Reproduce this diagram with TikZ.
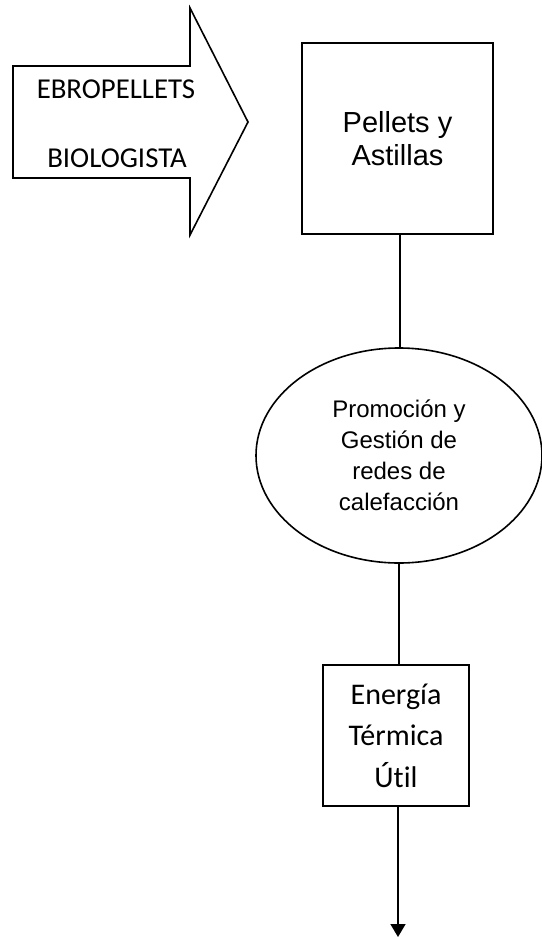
\documentclass[tikz,border=0pt]{standalone}
\usepackage{fontspec}
\setmainfont{Liberation Sans}
\newfontfamily\calib[Ligatures={NoCommon,NoRare}]{Carlito}
\usetikzlibrary{shapes.geometric,arrows.meta}
\begin{document}
\begin{tikzpicture}[x=1bp,y=-1bp,line width=1.6bp,
  boxshape/.style={draw,rectangle,inner sep=0pt,align=center},
  ellshape/.style={draw,ellipse,inner sep=0pt,align=center,minimum width=286bp,minimum height=215bp,
    font=\fontsize{24bp}{31bp}\selectfont},
  calibtext/.style={font=\calib\fontsize{28.8bp}{34bp}\selectfont},
  link/.style={draw,line width=1.6bp}]
\useasboundingbox (0,0) rectangle (542,938);
% big arrow
\draw (13,66) -- (190,66) -- (190,8) -- (248,122) -- (190,235) -- (190,178) -- (13,178) -- cycle;
\node[calibtext,anchor=base] (ebro) at (116,98) {EBROPELLETS};
\node[calibtext,anchor=base] (bio) at (117,167) {BIOLOGISTA};
% square
\node[boxshape,minimum width=191bp,minimum height=191bp,font=\fontsize{29bp}{33bp}\selectfont] (pel) at (397.5,138.5) {Pellets y\\Astillas};
% ellipse
\node[ellshape] (prom) at (399,455.5) {Promoción y\\Gestión de\\redes de\\calefacción};
% energy box
\node[boxshape,minimum width=146bp,minimum height=141bp,font=\calib\fontsize{30bp}{41.5bp}\selectfont] (ener) at (396,735.5) {Energía\\Térmica\\Útil};
\coordinate (endp) at (398,937);
\draw[link] (pel.south -| 400,0) -- (prom.north -| 400,0);
\draw[link] (prom.south -| 399,0) -- (ener.north -| 399,0);
\draw[link,-{Triangle[width=15bp,length=13bp]}] (ener.south -| 398,0) -- (endp);
\end{tikzpicture}
\end{document}
